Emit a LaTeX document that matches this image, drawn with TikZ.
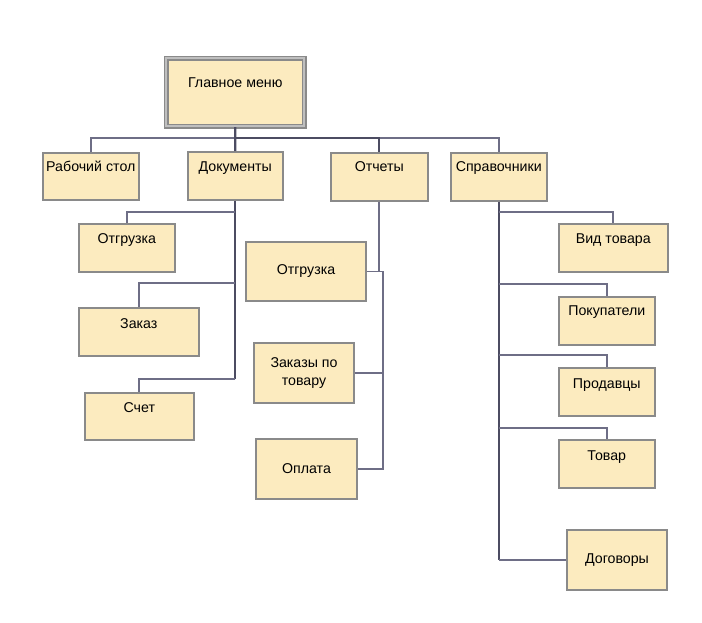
\documentclass[tikz,border=0pt]{standalone}
\usepackage{fontspec}
\setmainfont{Liberation Sans}
\definecolor{boxfill}{HTML}{FCEBBF}
\definecolor{boxline}{HTML}{8A8A8A}
\definecolor{conn}{HTML}{6E6E86}
\definecolor{connd}{HTML}{4C4C62}
\tikzset{
  box/.style={draw=boxline, line width=1.6pt, fill=boxfill, inner sep=0pt, align=center,
    font=\fontsize{14.2}{18}\selectfont},
  mainbox/.style={box, draw=boxline, double=boxline!55, double distance=2pt, line width=1.5pt},
  wire/.style={draw=conn, line width=1.9pt},
  wired/.style={draw=connd, line width=2.2pt},
}
\newcommand\tbox[7]{\node[box,anchor=north west,minimum width=#4pt,text height=#5pt,text depth=#6pt] (#1) at (#2,#3) {#7};}
\begin{document}
\begin{tikzpicture}[x=1pt,y=-1pt]
\useasboundingbox (0,0) rectangle (702,622);
% coordinates of buses
\coordinate (bus) at (0,138);
\coordinate (db1) at (0,212);
\coordinate (db2) at (0,283);
\coordinate (db3) at (0,379);
\coordinate (rtrunk) at (383,0);
\coordinate (sb1) at (0,212);
\coordinate (sb2) at (0,284);
\coordinate (sb3) at (0,355);
\coordinate (sb4) at (0,428);

% nodes
\node[mainbox,anchor=north west,minimum width=138pt,text height=29.5pt,text depth=38.5pt] (main) at (165.5,57.5) {Главное меню};
\tbox{rab}{42}{152}{96}{18.5}{28.5}{Рабочий стол}
\tbox{doc}{187}{151}{95}{19.5}{28.5}{Документы}
\tbox{otch}{330}{152}{97}{18.5}{29.5}{Отчеты}
\tbox{spr}{450}{152}{96}{18.5}{29.5}{Справочники}
\tbox{d1}{78}{223}{96}{19.5}{28.5}{Отгрузка}
\tbox{d2}{78}{307}{120}{20.5}{27.5}{Заказ}
\tbox{d3}{84}{392}{109}{19.5}{27.5}{Счет}
\tbox{s1}{558}{223}{109}{19.5}{28.5}{Вид товара}
\tbox{s2}{558}{296}{96}{18.5}{29.5}{Покупатели}
\tbox{s3}{558}{367}{96}{20.5}{27.5}{Продавцы}
\tbox{s4}{558}{439}{96}{20.5}{27.5}{Товар}
\node[box,minimum width=120pt,minimum height=59pt] (r1) at (306,271.5) {Отгрузка};
\node[box,minimum width=100pt,minimum height=60pt] (r2) at (304,373) {Заказы по\\товару};
\node[box,minimum width=101pt,minimum height=60pt] (r3) at (306.5,469) {Оплата};
\node[box,minimum width=100pt,minimum height=60pt] (s5) at (617,560) {Договоры};

% top level
\draw[wire] (rab.north) -- (rab.north |- bus) -- (main.south |- bus);
\draw[wire] (otch.north |- bus) -- (spr.north |- bus) -- (spr.north);
\draw[wired] (main.south |- bus) -- (otch.north |- bus) -- (otch.north);
\draw[wired] (main.south) -- (doc.north);
% documents
\draw[wired] (doc.south) -- (doc.south |- db3);
\draw[wire] (doc.south |- db1) -| (d1.north);
\draw[wire] (doc.south |- db2) -| (d2.north);
\draw[wire] (doc.south |- db3) -| (d3.north);
% reports
\draw[wire] (otch.south) -- (otch.south |- r1.east);
\draw[wire] (r1.east) -- (rtrunk |- r1.east) -- (rtrunk |- r3.east) -- (r3.east);
\draw[wire] (r2.east) -- (rtrunk |- r2.east);
% references
\draw[wired] (spr.south) -- (spr.south |- s5.west);
\draw[wire] (spr.south |- s5.west) -- (s5.west);
\draw[wire] (spr.south |- sb1) -| (s1.north);
\draw[wire] (spr.south |- sb2) -| (s2.north);
\draw[wire] (spr.south |- sb3) -| (s3.north);
\draw[wire] (spr.south |- sb4) -| (s4.north);
\end{tikzpicture}
\end{document}
